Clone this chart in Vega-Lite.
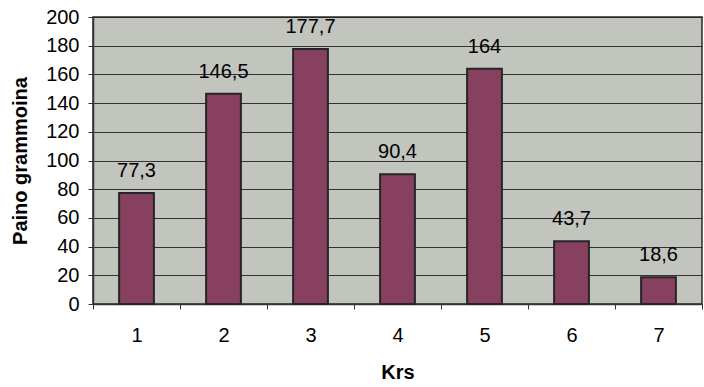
{
  "$schema": "https://vega.github.io/schema/vega-lite/v6.json",
  "width": 609,
  "height": 287,
  "autosize": "none",
  "padding": {"left": 93, "top": 17, "right": 2, "bottom": 83},
  "background": "white",
  "config": {
    "font": "Liberation Sans",
    "locale": {"number": {"decimal": ",", "thousands": " ", "grouping": [3], "currency": ["", " €"]}},
    "view": {"fill": "#c2c4be", "stroke": "#2a2a2a", "strokeWidth": 1.5}
  },
  "data": {
    "values": [
      {"Krs": "1", "Paino": 77.3},
      {"Krs": "2", "Paino": 146.5},
      {"Krs": "3", "Paino": 177.7},
      {"Krs": "4", "Paino": 90.4},
      {"Krs": "5", "Paino": 164},
      {"Krs": "6", "Paino": 43.7},
      {"Krs": "7", "Paino": 18.6}
    ]
  },
  "encoding": {
    "x": {
      "field": "Krs", "type": "ordinal",
      "scale": {"paddingInner": 0, "paddingOuter": 0},
      "axis": {
        "title": "Krs", "titleFontSize": 20, "titleFontWeight": "bold", "titleColor": "black", "titlePadding": 17,
        "labelAngle": 0, "labelFontSize": 20, "labelColor": "black", "labelPadding": 16,
        "tickBand": "extent", "tickSize": 5, "tickColor": "#333", "domainColor": "#333", "domainWidth": 1.5, "grid": false
      }
    },
    "y": {
      "field": "Paino", "type": "quantitative",
      "scale": {"domain": [0, 200], "nice": false},
      "axis": {
        "title": "Paino grammoina", "titleFontSize": 20, "titleFontWeight": "bold", "titleColor": "black", "titlePadding": 15,
        "values": [0, 20, 40, 60, 80, 100, 120, 140, 160, 180, 200],
        "labelFontSize": 20, "labelColor": "black", "labelPadding": 9,
        "tickSize": 5, "tickColor": "#333", "domainColor": "#333", "domainWidth": 1.5,
        "grid": true, "gridColor": "#222222", "gridWidth": 1, "gridOpacity": 0.9
      }
    }
  },
  "layer": [
    {
      "mark": {"type": "bar", "width": {"band": 0.4}, "fill": "#87405f", "stroke": "#262626", "strokeWidth": 2}
    },
    {
      "mark": {"type": "text", "baseline": "bottom", "dy": -12, "fontSize": 20, "color": "black"},
      "encoding": {"text": {"field": "Paino", "type": "quantitative", "format": ".4~g"}}
    }
  ]
}
